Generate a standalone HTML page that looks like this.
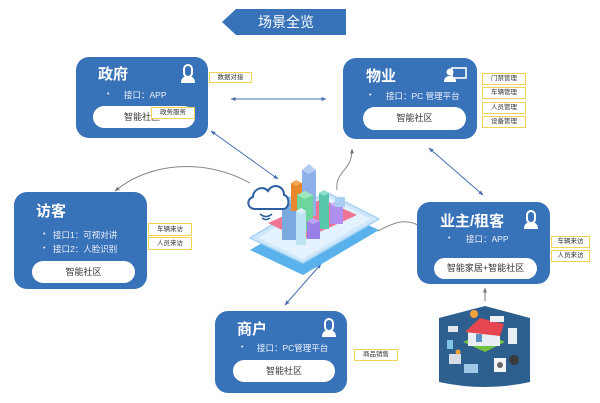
<!DOCTYPE html>
<html><head><meta charset="utf-8">
<style>
*{margin:0;padding:0;box-sizing:border-box;}
html,body{width:600px;height:403px;background:#fff;overflow:hidden;}
body{position:relative;font-family:"Liberation Sans","Noto Sans CJK SC",sans-serif;}
.box{position:absolute;background:#3872b9;border-radius:13px;color:#fff;}
.t{position:absolute;font-size:15px;font-weight:bold;line-height:16px;white-space:nowrap;}
.b{position:absolute;font-size:8.5px;line-height:10px;white-space:nowrap;color:#eef3fb;}
.dot{position:absolute;font-size:7px;line-height:10px;color:#eef3fb;}
.pill{position:absolute;background:#fff;border-radius:12px;color:#333;font-size:9px;text-align:center;white-space:nowrap;}
.lb{position:absolute;border:1px solid #f2d35a;background:#fff;color:#333;font-size:6.5px;text-align:center;white-space:nowrap;}
svg{position:absolute;left:0;top:0;}
</style></head><body>

<svg width="600" height="403" viewBox="0 0 600 403">
<defs>
<marker id="a" viewBox="0 0 10 10" refX="9" refY="5" markerWidth="5" markerHeight="5" orient="auto-start-reverse"><path d="M0,1 L10,5 L0,9 z" fill="#4a6fb0"/></marker>
<marker id="g" viewBox="0 0 10 10" refX="9" refY="5" markerWidth="5" markerHeight="5" orient="auto-start-reverse"><path d="M0,1 L10,5 L0,9 z" fill="#777"/></marker>
</defs>
<!-- banner -->
<polygon points="222,22 236,9 346,9 346,35 236,35" fill="#3872b9"/>
<text x="258" y="27" font-size="14" fill="#fff" font-family="Liberation Sans,Noto Sans CJK SC,sans-serif">场景全览</text>

<!-- connectors -->
<line x1="231" y1="99" x2="326" y2="99" stroke="#4a6fb0" stroke-width="1" marker-start="url(#a)" marker-end="url(#a)"/>
<line x1="211" y1="131" x2="278" y2="179" stroke="#4a6fb0" stroke-width="1" marker-start="url(#a)" marker-end="url(#a)"/>
<path d="M250,183 C205,158 150,162 115,191" fill="none" stroke="#888" stroke-width="1" marker-end="url(#g)"/>
<path d="M337,190 C335,170 352,172 352,149" fill="none" stroke="#888" stroke-width="1" marker-end="url(#g)"/>
<line x1="429" y1="148" x2="483" y2="195" stroke="#4a6fb0" stroke-width="1" marker-start="url(#a)" marker-end="url(#a)"/>
<path d="M378,231 C395,222 405,218 420,226 C428,230 432,233 437,236" fill="none" stroke="#888" stroke-width="1"/>
<line x1="321" y1="264" x2="285" y2="305" stroke="#4a6fb0" stroke-width="1" marker-start="url(#a)" marker-end="url(#a)"/>
<line x1="485" y1="301" x2="485" y2="288" stroke="#777" stroke-width="1" marker-end="url(#g)"/>

<!-- central illustration -->
<polygon points="250,250 303,275 379,230 326,206" fill="#5ab2ec"/>
<polygon points="250,238 303,263 379,219 326,192" fill="#cfe7fb" stroke="#a9d2f3" stroke-width="1.5"/>
<polygon points="258,238 303,259 370,219 326,196" fill="#e4f2fd"/>
<polygon points="268,223 302,240 357,215 322,199" fill="#f07593"/>
<!-- buildings -->
<rect x="282" y="200" width="14" height="40" fill="#7aa9e0"/><polygon points="282,200 289,196 296,200 289,204" fill="#a7c8ee"/>
<rect x="291" y="183" width="11" height="28" fill="#e8872b"/><polygon points="291,183 296,180 302,183 296,186" fill="#f3a95a"/>
<rect x="302" y="170" width="14" height="46" fill="#8fb1ea"/><polygon points="302,170 309,164 316,170 309,174" fill="#b5cdf3"/>
<rect x="319" y="193" width="10" height="36" fill="#58c7ac"/><polygon points="319,193 324,190 329,193 324,196" fill="#8ee0c8"/>
<rect x="297" y="195" width="16" height="36" fill="#6ed69b"/><polygon points="297,195 305,191 313,195 305,199" fill="#9ee8bd"/>
<rect x="296" y="211" width="10" height="34" fill="#bde2f4"/><polygon points="296,211 301,208 306,211 301,214" fill="#dff2fb"/>
<rect x="307" y="221" width="13" height="18" fill="#9a7fe8"/><polygon points="307,221 313,218 320,221 313,224" fill="#bca8f2"/>
<rect x="330" y="204" width="13" height="20" fill="#b08ef0"/><polygon points="330,204 336,201 343,204 336,207" fill="#cdb7f6"/>
<rect x="335" y="197" width="10" height="10" fill="#a9d0f4"/>
<!-- cloud -->
<path d="M255,209 C247,209 246,199 253,197 C253,189 263,185 268,191 C272,183 284,185 284,195 C290,196 290,209 283,209 Z" fill="#fff" stroke="#2d5e9f" stroke-width="2"/>
<path d="M260,214 Q266,219 272,214" fill="none" stroke="#2d5e9f" stroke-width="1.5"/>
<path d="M262,218 Q266,221 270,218" fill="none" stroke="#2d5e9f" stroke-width="1.5"/>

<!-- smart home illustration -->
<path d="M439,318 L485,306 L530,318 L530,382 Q485,392 439,382 Z" fill="#2d5f8f"/>
<polygon points="463,342 485,332 505,342 485,352" fill="#74c043"/>
<rect x="468" y="330" width="32" height="16" fill="#e9eef4"/>
<polygon points="465,332 480,318 504,324 500,336" fill="#e5464f"/>
<rect x="476" y="334" width="6" height="8" fill="#5b8ec4"/>
<rect x="448" y="326" width="10" height="6" fill="#dfe6ee"/>
<rect x="490" y="316" width="14" height="6" fill="#eef1f4"/>
<rect x="508" y="328" width="9" height="16" fill="#e8eef4"/>
<circle cx="514" cy="360" r="5" fill="#3b3b3b"/>
<rect x="494" y="358" width="12" height="14" fill="#f2f4f6"/><circle cx="500" cy="365" r="3" fill="#666"/>
<rect x="449" y="354" width="12" height="10" fill="#d7dde4"/>
<rect x="464" y="364" width="14" height="9" fill="#9fc7e8"/>
<rect x="447" y="340" width="6" height="9" fill="#7fc6e6"/>
<circle cx="474" cy="314" r="4" fill="#f3a33a"/>
<circle cx="458" cy="352" r="2.5" fill="#f3a33a"/>
</svg>

<!-- 政府 -->
<div class="box" style="left:76px;top:57px;width:132px;height:81px;">
  <div class="t" style="left:22px;top:10px;">政府</div>
  <svg style="left:104px;top:7px;" width="16" height="19" viewBox="0 0 16 19"><path d="M4,9 V5 a4,4 0 0 1 8,0 V9 a4,4 0 0 1 -8,0z" fill="none" stroke="#fff" stroke-width="2"/><path d="M1,19 C1,14 4,12 8,12 C12,12 15,14 15,19z" fill="#fff"/></svg>
  <div class="dot" style="left:31px;top:33px;">•</div>
  <div class="b" style="left:48px;top:33px;">接口：APP</div>
  <div class="pill" style="left:17px;top:49px;width:102px;height:22px;line-height:22px;padding-right:4px;">智能社区</div>
</div>
<div class="lb" style="left:151px;top:107px;width:44px;height:12px;line-height:10px;">政务服务</div>
<div class="lb" style="left:209px;top:72px;width:43px;height:11px;line-height:9px;">数据对接</div>

<!-- 物业 -->
<div class="box" style="left:343px;top:58px;width:134px;height:81px;">
  <div class="t" style="left:23px;top:11px;">物业</div>
  <svg style="left:101px;top:9px;" width="23" height="15" viewBox="0 0 23 15"><rect x="8" y="1" width="14" height="10" fill="none" stroke="#fff" stroke-width="1.6"/><circle cx="6" cy="5" r="3.5" fill="#fff"/><path d="M0,15 C0,10 3,9 6,9 C9,9 12,10 12,15z" fill="#fff"/></svg>
  <div class="dot" style="left:26px;top:33px;">•</div>
  <div class="b" style="left:43px;top:33px;">接口：PC 管理平台</div>
  <div class="pill" style="left:20px;top:49px;width:103px;height:23px;line-height:23px;">智能社区</div>
</div>
<div class="lb" style="left:482px;top:73px;width:44px;height:12px;line-height:10px;">门禁管理</div>
<div class="lb" style="left:482px;top:87px;width:44px;height:12px;line-height:10px;">车辆管理</div>
<div class="lb" style="left:482px;top:102px;width:44px;height:12px;line-height:10px;">人员管理</div>
<div class="lb" style="left:482px;top:116px;width:44px;height:12px;line-height:10px;">设备管理</div>

<!-- 访客 -->
<div class="box" style="left:14px;top:192px;width:133px;height:97px;">
  <div class="t" style="left:22px;top:12px;">访客</div>
  <div class="dot" style="left:29px;top:38px;">•</div>
  <div class="b" style="left:39px;top:38px;">接口1：可视对讲</div>
  <div class="dot" style="left:29px;top:52px;">•</div>
  <div class="b" style="left:39px;top:52px;">接口2：人脸识别</div>
  <div class="pill" style="left:18px;top:69px;width:103px;height:22px;line-height:22px;">智能社区</div>
</div>
<div class="lb" style="left:148px;top:223px;width:44px;height:13px;line-height:11px;">车辆来访</div>
<div class="lb" style="left:148px;top:237px;width:44px;height:13px;line-height:11px;">人员来访</div>

<!-- 业主/租客 -->
<div class="box" style="left:417px;top:202px;width:133px;height:82px;">
  <div class="t" style="left:23px;top:12px;">业主/租客</div>
  <svg style="left:106px;top:8px;" width="16" height="19" viewBox="0 0 16 19"><path d="M4,9 V5 a4,4 0 0 1 8,0 V9 a4,4 0 0 1 -8,0z" fill="none" stroke="#fff" stroke-width="2"/><path d="M1,19 C1,14 4,12 8,12 C12,12 15,14 15,19z" fill="#fff"/></svg>
  <div class="dot" style="left:31px;top:32px;">•</div>
  <div class="b" style="left:49px;top:32px;">接口：APP</div>
  <div class="pill" style="left:17px;top:56px;width:103px;height:21px;line-height:21px;">智能家居+智能社区</div>
</div>
<div class="lb" style="left:551px;top:236px;width:39px;height:12px;line-height:10px;">车辆来访</div>
<div class="lb" style="left:551px;top:250px;width:39px;height:12px;line-height:10px;">人员来访</div>

<!-- 商户 -->
<div class="box" style="left:215px;top:311px;width:132px;height:82px;">
  <div class="t" style="left:22px;top:11px;">商户</div>
  <svg style="left:106px;top:7px;" width="16" height="19" viewBox="0 0 16 19"><path d="M4,9 V5 a4,4 0 0 1 8,0 V9 a4,4 0 0 1 -8,0z" fill="none" stroke="#fff" stroke-width="2"/><path d="M1,19 C1,14 4,12 8,12 C12,12 15,14 15,19z" fill="#fff"/></svg>
  <div class="dot" style="left:26px;top:32px;">•</div>
  <div class="b" style="left:42px;top:32px;">接口：PC管理平台</div>
  <div class="pill" style="left:18px;top:49px;width:102px;height:22px;line-height:22px;">智能社区</div>
</div>
<div class="lb" style="left:354px;top:349px;width:44px;height:12px;line-height:10px;">商品销售</div>

</body></html>
